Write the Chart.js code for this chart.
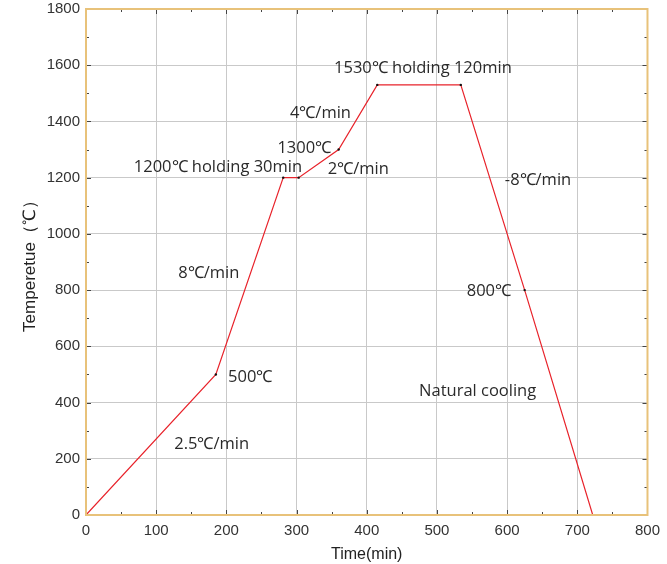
<!DOCTYPE html>
<html><head><meta charset="utf-8">
<script src="https://cdn.jsdelivr.net/npm/chart.js@4/dist/chart.umd.min.js"></script>
<style>html,body{margin:0;padding:0;background:#fff}#wrap{width:667px;height:564px}</style>
</head><body><div id="wrap"><canvas id="c" width="667" height="564"></canvas></div>
<script>
const times = [0, 185, 281, 303, 360, 415, 534, 625, 722];
const temps = [0, 500, 1200, 1200, 1300, 1530, 1530, 800, 0];
const xTicks = [0, 100, 200, 300, 400, 500, 600, 700, 800];
const yTicks = [0, 200, 400, 600, 800, 1000, 1200, 1400, 1600, 1800];
const annoTexts = ["1200℃ holding 30min", "1300℃", "2℃/min", "4℃/min", "1530℃ holding 120min", "-8℃/min", "800℃", "Natural cooling", "8℃/min", "500℃", "2.5℃/min"];
const annoX = [188, 311, 388, 334, 480, 644, 574, 558, 175, 234, 179];
const annoY = [1238, 1306, 1231, 1430, 1590, 1192, 797, 441, 861, 491, 253];

const annoPlugin = {
  id: 'anno',
  beforeDatasetsDraw(chart) {
    const {ctx, chartArea: a, scales: {x, y}} = chart;
    ctx.save();
    ctx.strokeStyle = '#444'; ctx.lineWidth = 1;
    for (let v = 0; v <= 800; v += 50) {
      const px = Math.round(x.getPixelForValue(v)) + 0.5;
      const len = (v % 100 === 0) ? 5 : 3;
      ctx.beginPath(); ctx.moveTo(px, a.bottom); ctx.lineTo(px, a.bottom - len); ctx.stroke();
      ctx.beginPath(); ctx.moveTo(px, a.top); ctx.lineTo(px, a.top + len); ctx.stroke();
    }
    for (let v = 0; v <= 1800; v += 100) {
      const py = Math.round(y.getPixelForValue(v)) + 0.5;
      const len = (v % 200 === 0) ? 5 : 3;
      ctx.beginPath(); ctx.moveTo(a.left, py); ctx.lineTo(a.left + len, py); ctx.stroke();
      ctx.beginPath(); ctx.moveTo(a.right, py); ctx.lineTo(a.right - len, py); ctx.stroke();
    }
    ctx.restore();
  },
  afterDatasetsDraw(chart) {
    const {ctx, chartArea: a, scales: {x, y}} = chart;
    ctx.save();
    ctx.strokeStyle = '#e8c27a'; ctx.lineWidth = 2;
    ctx.strokeRect(a.left, a.top, a.right - a.left, a.bottom - a.top);
    ctx.fillStyle = '#2a2a2a';
    ctx.font = '16.5px "Open Sans", sans-serif';
    ctx.textAlign = 'center'; ctx.textBaseline = 'middle';
    annoTexts.forEach((t, i) => {
      ctx.fillText(t, x.getPixelForValue(annoX[i]), y.getPixelForValue(annoY[i]));
    });
    ctx.restore();
  }
};

new Chart(document.getElementById('c'), {
  type: 'line',
  data: {
    datasets: [{
      data: times.map((t, i) => ({x: t, y: temps[i]})),
      borderColor: '#e8232b',
      borderWidth: 1.2,
      pointRadius: (c) => (c.dataIndex === 0 || c.dataIndex === times.length - 1) ? 0 : 1.2,
      pointBackgroundColor: '#111',
      pointBorderWidth: 0,
      tension: 0,
      fill: false
    }]
  },
  options: {
    responsive: false,
    animation: false,
    layout: {padding: {top: 0, right: 18, left: 0, bottom: 0}},
    plugins: {legend: {display: false}, tooltip: {enabled: false}},
    scales: {
      x: {
        type: 'linear', min: 0, max: 800,
        afterBuildTicks: (s) => { s.ticks = xTicks.map(v => ({value: v})); },
        afterFit: (s) => { s.height = 49; },
        grid: {color: '#c9c9c9', lineWidth: 1, drawTicks: false},
        border: {display: false},
        ticks: {color: '#333', font: {family: 'Liberation Sans, Arial, sans-serif', size: 15}, padding: 7, maxRotation: 0, callback: (v) => String(v)},
        title: {display: true, text: 'Time(min)', color: '#222', font: {family: 'Liberation Sans, Arial, sans-serif', size: 16}, padding: {top: 0, bottom: 0}}
      },
      y: {
        type: 'linear', min: 0, max: 1800,
        afterBuildTicks: (s) => { s.ticks = yTicks.map(v => ({value: v})); },
        afterFit: (s) => { s.width = 86; s.paddingTop = 9; s.paddingBottom = 0; },
        grid: {color: '#c9c9c9', lineWidth: 1, drawTicks: false},
        border: {display: false},
        ticks: {color: '#333', font: {family: 'Liberation Sans, Arial, sans-serif', size: 15}, padding: 6, callback: (v) => String(v)},
        title: {display: true, text: 'Temperetue（℃）', color: '#222', font: {family: 'Liberation Sans, Arial, sans-serif', size: 17}, padding: {top: 20, bottom: 4}}
      }
    }
  },
  plugins: [annoPlugin]
});
</script></body></html>
